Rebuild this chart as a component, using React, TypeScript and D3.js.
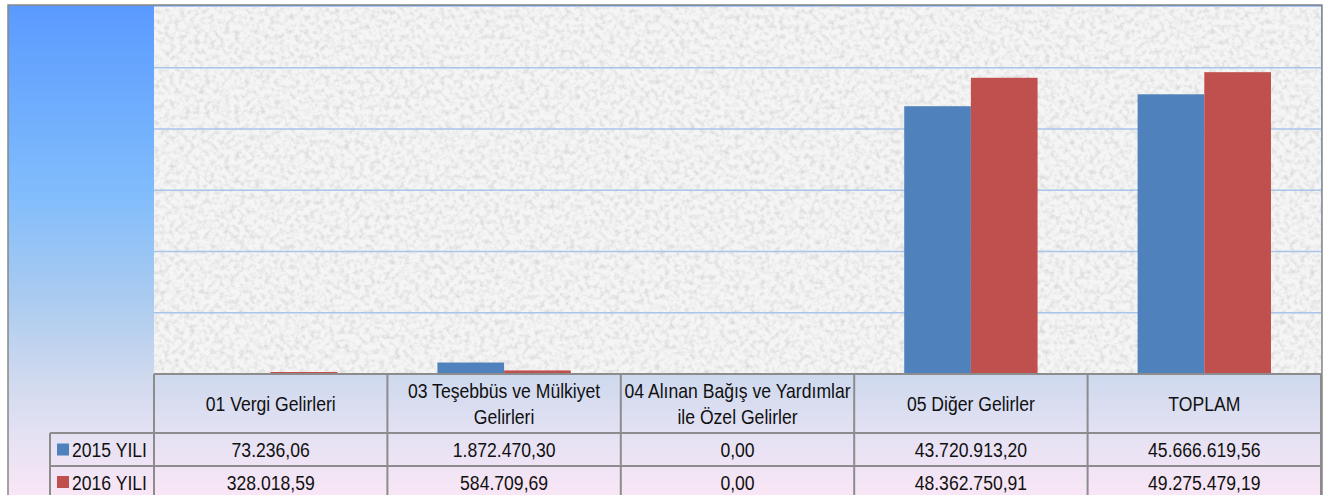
import React from "react";
import * as d3 from "d3";

const categories = [
  "01 Vergi Gelirleri",
  "03 Teşebbüs ve Mülkiyet Gelirleri",
  "04 Alınan Bağış ve Yardımlar ile Özel Gelirler",
  "05 Diğer Gelirler",
  "TOPLAM",
];
const categoryLines = [
  ["01 Vergi Gelirleri"],
  ["03 Teşebbüs ve Mülkiyet", "Gelirleri"],
  ["04 Alınan Bağış ve Yardımlar", "ile Özel Gelirler"],
  ["05 Diğer Gelirler"],
  ["TOPLAM"],
];
const seriesNames = ["2015 YILI", "2016 YILI"];
const values2015 = [73236.06, 1872470.3, 0, 43720913.2, 45666619.56];
const values2016 = [328018.59, 584709.69, 0, 48362750.91, 49275479.19];
const yTicks = [0, 10000000, 20000000, 30000000, 40000000, 50000000, 60000000];
const colors = ["#4f81bd", "#c0504d"];

const trLocale = d3.formatLocale({
  decimal: ",",
  thousands: ".",
  grouping: [3],
  currency: ["", ""],
});
const fmt = trLocale.format(",.2f");

export default function App() {
  const W = 1335;
  const H = 495;
  const frameL = 8, frameT = 5, frameR = 1322;
  const plotL = 154, plotR = 1321, plotT = 6.5, plotB = 374;
  const headerB = 433, row1B = 466, row2B = 499;
  const legendL = 50;

  const x = d3.scaleBand<string>().domain(categories).range([plotL, plotR]).paddingInner(0).paddingOuter(0);
  const bw = x.bandwidth();
  const barW = bw / 3.5;
  const xs = d3.scaleBand<string>().domain(seriesNames).range([0, barW * 2]);
  const y = d3.scaleLinear().domain([0, 60000000]).range([plotB, plotT]);
  const series = [values2015, values2016];

  const font = "'Liberation Sans', Arial, sans-serif";
  const fs = 17.6;
  const txt = (cx: number, cy: number, s: string, anchor = "middle", key?: any) => (
    <text
      key={key}
      transform={`translate(${cx},${cy}) scale(1,1.19)`}
      textAnchor={anchor}
      dominantBaseline="central"
      fontFamily={font}
      fontSize={fs}
      fill="#111"
    >
      {s}
    </text>
  );

  const colEdges = [plotL, ...categories.map((c) => (x(c) as number) + bw)];
  const borderColor = "#8c8c8c";

  return (
    <svg width={W} height={H} style={{ position: "absolute", left: 0, top: 0 }}>
      <defs>
        <linearGradient id="bg" gradientUnits="userSpaceOnUse" x1="0" y1={frameT} x2="0" y2={H}>
          <stop offset="0" stopColor="#5a9aff" />
          <stop offset="0.38" stopColor="#80bcfc" />
          <stop offset="0.6" stopColor="#aacbf0" />
          <stop offset="0.76" stopColor="#cfd9ee" />
          <stop offset="0.87" stopColor="#e3e1f3" />
          <stop offset="1" stopColor="#f9e6f6" />
        </linearGradient>
        <filter id="tex" x="0" y="0" width="100%" height="100%" filterUnits="objectBoundingBox">
          <feTurbulence type="fractalNoise" baseFrequency="0.2" numOctaves="3" seed="7" result="n" />
          <feColorMatrix
            in="n"
            type="matrix"
            values="0 0 0 0 0.6  0 0 0 0 0.6  0 0 0 0 0.6  1.5 0 0 0 -0.64"
          />
        </filter>
      </defs>

      <rect x={frameL} y={frameT} width={frameR - frameL} height={H - frameT + 10} fill="url(#bg)" />

      <rect x={plotL} y={plotT} width={plotR - plotL} height={plotB - plotT} fill="#f5f5f5" />
      <rect x={plotL} y={plotT} width={plotR - plotL} height={plotB - plotT} fill="#000" filter="url(#tex)" />

      {yTicks.slice(1, -1).map((t) => (
        <line key={t} x1={plotL} x2={plotR} y1={y(t)} y2={y(t)} stroke="#aac4ea" strokeWidth={1.5} />
      ))}

      {categories.map((c, i) => (
        <g key={c} transform={`translate(${(x(c) as number) + (bw - barW * 2) / 2},0)`}>
          {series.map((s, j) => (
            <rect
              key={j}
              x={xs(seriesNames[j]) as number}
              y={y(s[i])}
              width={xs.bandwidth()}
              height={plotB - y(s[i])}
              fill={colors[j]}
            />
          ))}
        </g>
      ))}

      <g stroke={borderColor} strokeWidth={2} fill="none">
        <line x1={plotL} x2={plotR} y1={plotB} y2={plotB} />
        <line x1={legendL} x2={plotR} y1={headerB} y2={headerB} />
        <line x1={legendL} x2={plotR} y1={row1B} y2={row1B} />
        <line x1={legendL} x2={plotR} y1={row2B} y2={row2B} />
        <line x1={legendL} x2={legendL} y1={headerB} y2={row2B} />
        {colEdges.map((e, i) => (
          <line key={i} x1={e} x2={e} y1={plotB} y2={row2B} />
        ))}
      </g>

      {categories.map((c, i) => {
        const cx = (x(c) as number) + bw / 2;
        const cy = (plotB + headerB) / 2;
        const lines = categoryLines[i];
        const lh = 26;
        return (
          <g key={c}>
            {lines.map((l, k) => txt(cx, cy + (k - (lines.length - 1) / 2) * lh, l, "middle", k))}
          </g>
        );
      })}

      {series.map((s, j) => {
        const top = j === 0 ? headerB : row1B;
        const bot = j === 0 ? row1B : row2B;
        const cy = (top + bot) / 2 - (j === 1 ? 0.5 : 0);
        return (
          <g key={j}>
            <rect x={57} y={cy - 6} width={12} height={12} fill={colors[j]} />
            {txt(72, cy, seriesNames[j], "start")}
            {categories.map((c, i) => txt((x(c) as number) + bw / 2, cy, fmt(s[i]), "middle", i))}
          </g>
        );
      })}

      <rect
        x={frameL}
        y={frameT}
        width={frameR - frameL}
        height={H - frameT + 10}
        fill="none"
        stroke="#888"
        strokeWidth={1.5}
      />
    </svg>
  );
}
